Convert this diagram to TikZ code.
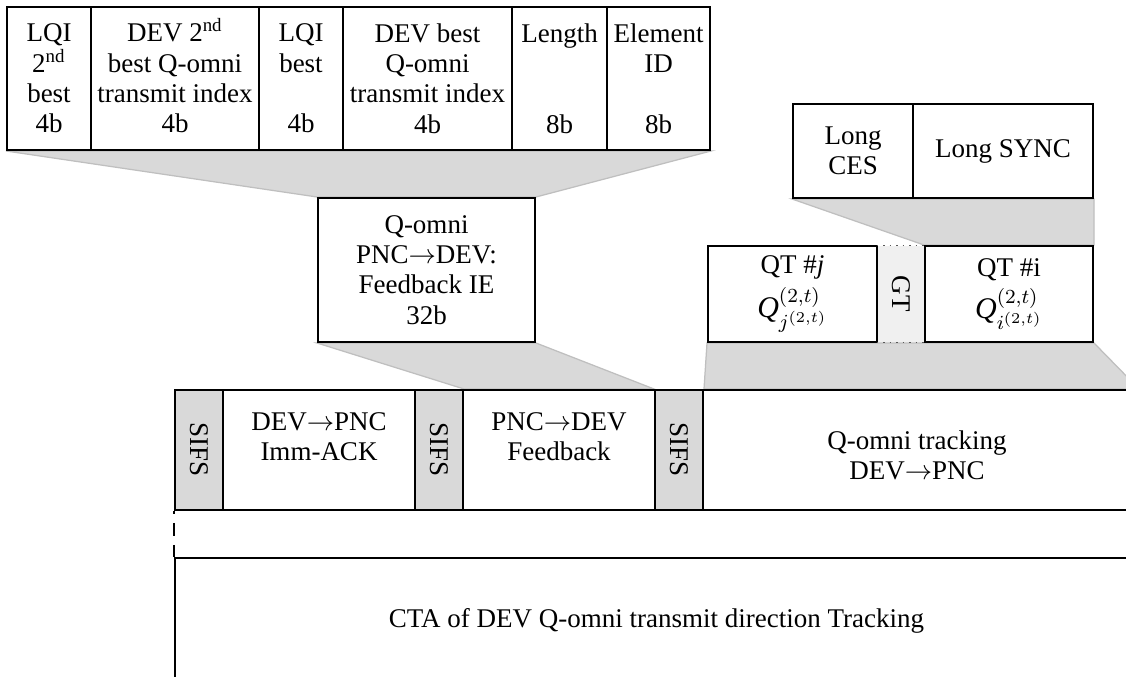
\documentclass[tikz,border=0pt]{standalone}
\usepackage{fontspec}
\setmainfont{Liberation Serif}
\usetikzlibrary{backgrounds}

\def\pxu{0.4pt}
\newcommand{\nd}{\smash{\textsuperscript{nd}}}
\newcommand{\arr}{$\rightarrow$}

\begin{document}
\begin{tikzpicture}[x=0.4pt, y=-0.4pt,
    every node/.style={font=\fontsize{10.8}{12.1}\selectfont},
    field/.style={draw, line width=0.8pt, rectangle, inner sep=0pt, align=center},
    gap/.style={field, fill=gray!30},
    txt/.style={align=center, inner sep=0pt},
    zoom/.style={fill=gray!30, draw=gray!50, line width=0.5pt}]

    \useasboundingbox (0,0) rectangle (1126,677);

    % feedback IE fields
    \node[field, minimum width=84*\pxu, minimum height=143*\pxu] (lqi2) at (49,78.5) {LQI\\2\nd\\best\\4b};
    \node[field, minimum width=168*\pxu, minimum height=143*\pxu] (dev2) at (175,78.5) {DEV 2\nd\\best Q-omni\\transmit index\\4b};
    \node[field, minimum width=84*\pxu, minimum height=143*\pxu] (lqi1) at (301,78.5) {LQI\\best\\~\\4b};
    \node[field, minimum width=169*\pxu, minimum height=143*\pxu] (dev1) at (427.5,78.5) {DEV best\\Q-omni\\transmit index\\4b};
    \node[field, minimum width=95*\pxu, minimum height=143*\pxu] (len) at (559.5,78.5) {Length\\~\\~\\8b};
    \node[field, minimum width=103*\pxu, minimum height=143*\pxu] (eid) at (658.5,78.5) {Element\\ID\\~\\8b};

    \node[field, minimum width=217*\pxu, minimum height=144*\pxu] (qie) at (426.5,270) {Q-omni\\PNC\arr DEV:\\Feedback IE\\32b};

    % training sequence
    \node[field, minimum width=120*\pxu, minimum height=94*\pxu] (lces) at (853,151) {Long\\CES};
    \node[field, minimum width=180*\pxu, minimum height=94*\pxu] (lsync) at (1003,151) {Long SYNC};

    \node[txt, fill=gray!12, minimum width=48*\pxu, minimum height=96*\pxu] (gt) at (901,294) {\rotatebox{-90}{GT}};
    \node[field, minimum width=169*\pxu, minimum height=96*\pxu] (qtj) at (792.5,294) {QT \#\textit{j}\\[2pt]{\large$\mathit{Q}^{(2,t)}_{j^{(2,t)}}$}};
    \node[field, minimum width=168*\pxu, minimum height=96*\pxu] (qti) at (1009,294) {QT \#i\\[2pt]{\large$\mathit{Q}^{(2,t)}_{i^{(2,t)}}$}};
    \draw[dotted, line width=0.6pt, gray!70!black] (gt.north west) -- (gt.north east);
    \draw[dotted, line width=0.6pt, gray!70!black] (gt.south west) -- (gt.south east);

    % tracking period
    \node[gap, minimum width=48*\pxu, minimum height=120*\pxu] (sifsA) at (199,450) {\rotatebox{-90}{SIFS}};
    \node[field, minimum width=192*\pxu, minimum height=120*\pxu] (ack) at (319,450) {};
    \node[gap, minimum width=48*\pxu, minimum height=120*\pxu] (sifsB) at (439,450) {\rotatebox{-90}{SIFS}};
    \node[field, minimum width=192*\pxu, minimum height=120*\pxu] (fb) at (559,450) {};
    \node[gap, minimum width=48*\pxu, minimum height=120*\pxu] (sifsC) at (679,450) {\rotatebox{-90}{SIFS}};
    \node[field, minimum width=435*\pxu, minimum height=120*\pxu] (trk) at (920.5,450) {};

    \node[txt] (ackTxt) at (319,437) {DEV\arr PNC\\Imm-ACK};
    \node[txt] (fbTxt) at (559,437) {PNC\arr DEV\\Feedback};
    \node[txt] (trkTxt) at (917,455) {Q-omni tracking\\DEV\arr PNC};

    \node[field, minimum width=963*\pxu, minimum height=126*\pxu] (cta) at (656.5,621) {CTA of DEV Q-omni transmit direction Tracking};
    \draw[line width=0.8pt, dash pattern=on 5.2pt off 3.6pt, dash phase=4pt] (sifsA.south west) -- (cta.north west);

    % zoom-in shading
    \begin{pgfonlayer}{background}
        \draw[zoom] (lqi2.south west) -- (eid.south east) -- (qie.north east) -- (qie.north west) -- cycle;
        \draw[zoom] (qie.south west) -- (qie.south east) -- (sifsC.north west) -- (sifsB.north east) -- cycle;
        \draw[zoom] (lces.south west) -- (lsync.south east) -- (qti.north east) -- (qti.north west) -- cycle;
        \draw[zoom] (qtj.south west) -- (qti.south east) -- (trk.north east) -- (sifsC.north east) -- cycle;
    \end{pgfonlayer}
\end{tikzpicture}
\end{document}
